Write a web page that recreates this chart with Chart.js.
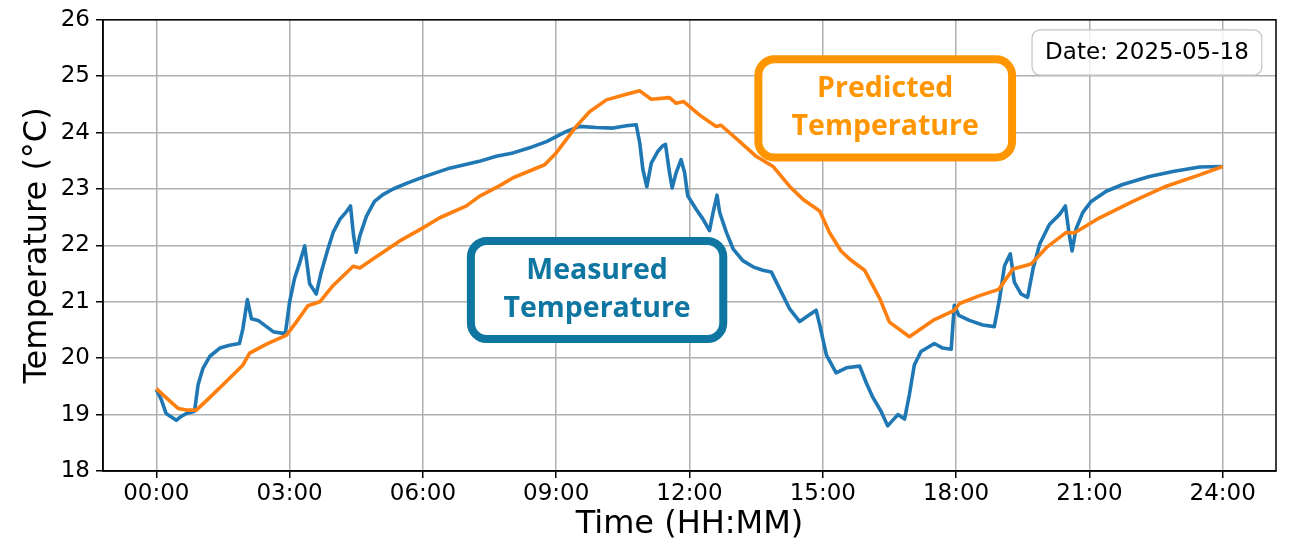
<!DOCTYPE html>
<html>
<head>
<meta charset="utf-8">
<script src="https://cdn.jsdelivr.net/npm/chart.js@4.4.1/dist/chart.umd.min.js"></script>
<style>
  html, body { margin: 0; padding: 0; background: #fff; }
  #wrap { width: 1291px; height: 546px; }
</style>
</head>
<body>
<div id="wrap"><canvas id="tempChart" width="1291" height="546"></canvas></div>
<script>
// hours since midnight
const measuredHours = [0, 0.11, 0.22, 0.45, 0.56, 0.68, 0.86, 0.94, 1.05, 1.2, 1.43, 1.65, 1.87, 1.95, 2.05, 2.14, 2.29, 2.48, 2.63, 2.85, 2.91,
  3.0, 3.11, 3.23, 3.34, 3.45, 3.6, 3.71, 3.86, 3.98, 4.13, 4.28, 4.37, 4.44, 4.5, 4.58, 4.73, 4.91, 5.1, 5.33, 5.63,
  6.0, 6.6, 7.27, 7.65, 8.03, 8.4, 8.78, 9.0, 9.23, 9.53, 9.9, 10.28, 10.58, 10.8, 10.88, 10.95, 11.04, 11.14, 11.29,
  11.39, 11.46, 11.55, 11.61, 11.7, 11.81, 11.89, 11.96, 12.15, 12.3, 12.45, 12.53, 12.62, 12.68, 12.83, 12.98, 13.2,
  13.43, 13.65, 13.84, 14.03, 14.25, 14.48, 14.7, 14.85, 14.94, 15.08, 15.3, 15.53, 15.83, 15.98, 16.13, 16.31, 16.46,
  16.69, 16.84, 16.95, 17.06, 17.21, 17.51, 17.7, 17.89, 17.96, 18.06, 18.3, 18.6, 18.86, 18.98, 19.09, 19.22, 19.31,
  19.46, 19.61, 19.73, 19.88, 20.1, 20.33, 20.46, 20.54, 20.61, 20.7, 20.85, 21.04, 21.38, 21.75, 22.35, 22.88, 23.48, 24.0];
const measuredTemp = [19.44, 19.27, 19.02, 18.9, 18.97, 19.02, 19.06, 19.53, 19.82, 20.03, 20.18, 20.23, 20.26, 20.53, 21.04, 20.7, 20.67, 20.56, 20.47, 20.44, 20.47,
  21.0, 21.41, 21.7, 21.99, 21.32, 21.14, 21.52, 21.93, 22.23, 22.46, 22.6, 22.7, 22.17, 21.88, 22.17, 22.52, 22.78, 22.9, 23.0, 23.1,
  23.21, 23.37, 23.49, 23.58, 23.64, 23.73, 23.84, 23.93, 24.02, 24.11, 24.09, 24.08, 24.12, 24.14, 23.82, 23.35, 23.04, 23.46, 23.67,
  23.76, 23.79, 23.29, 23.02, 23.29, 23.52, 23.29, 22.88, 22.64, 22.47, 22.26, 22.58, 22.89, 22.58, 22.23, 21.94, 21.73,
  21.62, 21.56, 21.53, 21.23, 20.88, 20.65, 20.77, 20.85, 20.56, 20.06, 19.74, 19.83, 19.86, 19.56, 19.3, 19.06, 18.8,
  19.0, 18.92, 19.36, 19.88, 20.12, 20.26, 20.18, 20.16, 20.94, 20.76, 20.67, 20.59, 20.56, 21.06, 21.64, 21.85, 21.35,
  21.14, 21.08, 21.58, 22.02, 22.37, 22.55, 22.7, 22.23, 21.9, 22.29, 22.58, 22.78, 22.96, 23.08, 23.22, 23.31, 23.39, 23.4];

const predictedHours = [0, 0.22, 0.49, 0.68, 0.9, 1.2, 1.58, 1.95, 2.1, 2.48, 2.93, 3.15, 3.41, 3.68, 3.98, 4.43, 4.58, 4.95, 5.48,
  6.0, 6.38, 6.98, 7.27, 7.73, 8.03, 8.74, 9.0, 9.45, 9.75, 10.13, 10.58, 10.88, 11.14, 11.55, 11.7, 11.87, 12.23, 12.6, 12.71,
  13.13, 13.5, 13.88, 14.25, 14.55, 14.93, 15.15, 15.41, 15.6, 15.94, 16.28, 16.5, 16.95, 17.48, 17.96, 18.08, 18.53, 18.96,
  19.28, 19.69, 20.03, 20.48, 20.66, 21.23, 21.98, 22.73, 23.48, 24.0];
const predictedTemp = [19.46, 19.3, 19.11, 19.08, 19.08, 19.3, 19.59, 19.88, 20.09, 20.25, 20.41, 20.64, 20.93, 21.0, 21.29, 21.63, 21.6, 21.8, 22.08,
  22.31, 22.49, 22.7, 22.87, 23.06, 23.2, 23.43, 23.64, 24.11, 24.37, 24.58, 24.68, 24.74, 24.59, 24.62, 24.52, 24.55, 24.31, 24.11, 24.13,
  23.84, 23.58, 23.4, 23.05, 22.82, 22.61, 22.23, 21.9, 21.76, 21.56, 21.06, 20.64, 20.38, 20.67, 20.85, 20.97, 21.11, 21.22,
  21.58, 21.67, 21.96, 22.23, 22.22, 22.49, 22.78, 23.05, 23.25, 23.4];

const tickHours = [0, 3, 6, 9, 12, 15, 18, 21, 24];
const tickLabels = ["00:00", "03:00", "06:00", "09:00", "12:00", "15:00", "18:00", "21:00", "24:00"];

const blue = '#1f77b4';
const orange = '#ff7f0e';

// boxes drawn on top of the plot, in data units
const boxes = [
  { x0: 13.55, x1: 19.26, y0: 25.30, y1: 23.56, color: '#ff9500', lines: ["Predicted", "Temperature"] },
  { x0: 7.08, x1: 12.76, y0: 22.08, y1: 20.34, color: '#0e76a0', lines: ["Measured", "Temperature"] }
];

function roundRect(ctx, x, y, w, h, r) {
  ctx.beginPath();
  ctx.moveTo(x + r, y);
  ctx.arcTo(x + w, y, x + w, y + h, r);
  ctx.arcTo(x + w, y + h, x, y + h, r);
  ctx.arcTo(x, y + h, x, y, r);
  ctx.arcTo(x, y, x + w, y, r);
  ctx.closePath();
}

const decorPlugin = {
  id: 'decor',
  afterDatasetsDraw(chart) {
    const ctx = chart.ctx;
    const xs = chart.scales.x, ys = chart.scales.y;
    const a = chart.chartArea;
    ctx.save();
    // frame
    ctx.strokeStyle = '#000';
    ctx.lineWidth = 1.5;
    ctx.strokeRect(a.left, a.top, a.right - a.left, a.bottom - a.top);

    // date box
    const dx0 = xs.getPixelForValue(19.71), dx1 = xs.getPixelForValue(24.88);
    const dy0 = ys.getPixelForValue(25.82), dy1 = ys.getPixelForValue(25.02);
    roundRect(ctx, dx0, dy0, dx1 - dx0, dy1 - dy0, 8);
    ctx.fillStyle = 'rgba(255,255,255,0.8)';
    ctx.fill();
    ctx.strokeStyle = '#c4c4c4';
    ctx.lineWidth = 1.2;
    ctx.stroke();
    ctx.fillStyle = '#000';
    ctx.font = '23px "DejaVu Sans"';
    ctx.textAlign = 'center';
    ctx.textBaseline = 'middle';
    ctx.fillText('Date: 2025-05-18', (dx0 + dx1) / 2, (dy0 + dy1) / 2 + 1);

    // labelled boxes
    boxes.forEach(b => {
      const x0 = xs.getPixelForValue(b.x0), x1 = xs.getPixelForValue(b.x1);
      const y0 = ys.getPixelForValue(b.y0), y1 = ys.getPixelForValue(b.y1);
      roundRect(ctx, x0, y0, x1 - x0, y1 - y0, 16);
      ctx.fillStyle = '#fff';
      ctx.fill();
      ctx.strokeStyle = b.color;
      ctx.lineWidth = 8;
      ctx.stroke();
      ctx.fillStyle = b.color;
      ctx.font = 'bold 28.5px "Open Sans"';
      const cx = (x0 + x1) / 2, cy = (y0 + y1) / 2;
      ctx.fillText(b.lines[0], cx, cy - 19);
      ctx.fillText(b.lines[1], cx, cy + 19);
    });
    ctx.restore();
  }
};

new Chart(document.getElementById('tempChart'), {
  type: 'line',
  data: {
    datasets: [
      {
        label: 'Measured Temperature',
        data: measuredHours.map((h, i) => ({ x: h, y: measuredTemp[i] })),
        borderColor: blue,
        borderWidth: 3.6,
        borderJoinStyle: 'round',
        pointRadius: 0,
        order: 2
      },
      {
        label: 'Predicted Temperature',
        data: predictedHours.map((h, i) => ({ x: h, y: predictedTemp[i] })),
        borderColor: orange,
        borderWidth: 3.6,
        borderJoinStyle: 'round',
        pointRadius: 0,
        order: 1
      }
    ]
  },
  options: {
    responsive: false,
    animation: false,
    devicePixelRatio: 1,
    layout: { padding: { left: 0, right: 15, top: 16, bottom: 0 } },
    plugins: {
      legend: { display: false },
      tooltip: { enabled: false }
    },
    scales: {
      x: {
        type: 'linear',
        min: -1.2,
        max: 25.2,
        afterBuildTicks: (scale) => { scale.ticks = tickHours.map(v => ({ value: v })); },
        afterFit: (scale) => { scale.height = 75; },
        ticks: {
          callback: (v, i) => tickLabels[i],
          color: '#000',
          font: { family: 'DejaVu Sans', size: 23 },
          padding: 2,
          maxRotation: 0
        },
        grid: { color: '#b0b0b0', lineWidth: 1.5, tickColor: '#000', tickLength: 7 },
        border: { color: '#000', width: 1.5 },
        title: {
          display: true,
          text: 'Time (HH:MM)',
          color: '#000',
          font: { family: 'DejaVu Sans', size: 32 },
          padding: { top: 0, bottom: 2 }
        }
      },
      y: {
        min: 18,
        max: 26,
        afterFit: (scale) => { scale.width = 103; },
        ticks: {
          stepSize: 1,
          color: '#000',
          font: { family: 'DejaVu Sans', size: 23 },
          padding: 6
        },
        grid: { color: '#b0b0b0', lineWidth: 1.5, tickColor: '#000', tickLength: 7 },
        border: { color: '#000', width: 1.5 },
        title: {
          display: true,
          text: 'Temperature (°C)',
          color: '#000',
          font: { family: 'DejaVu Sans', size: 32 },
          padding: { top: 18, bottom: 0 }
        }
      }
    }
  },
  plugins: [decorPlugin]
});
</script>
</body>
</html>
